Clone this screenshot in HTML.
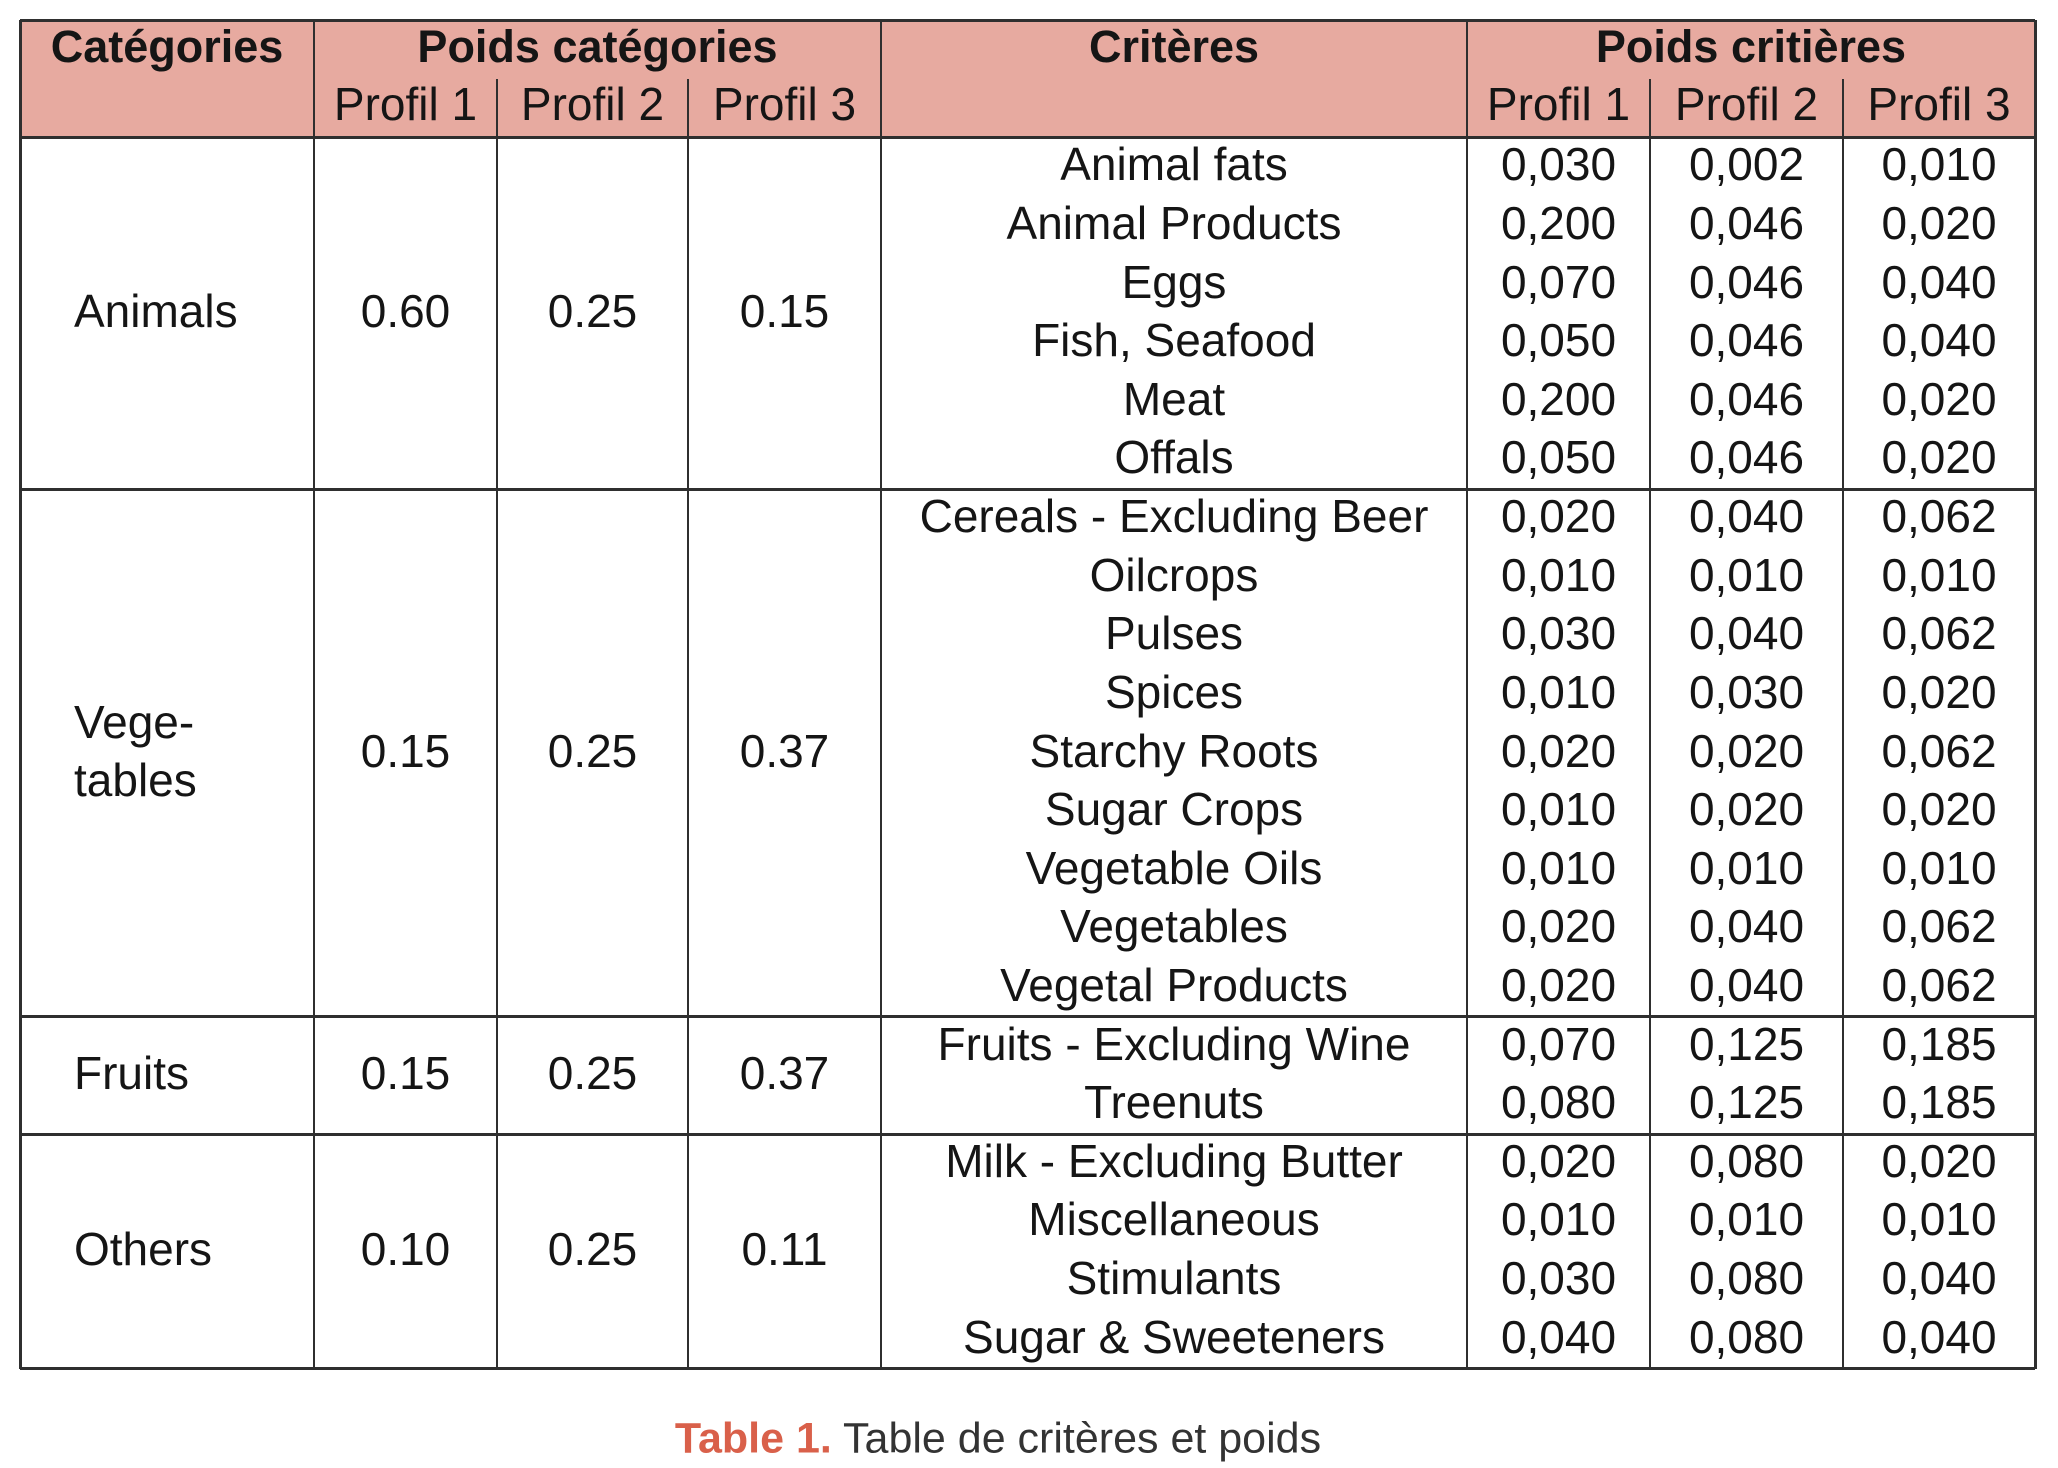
<!DOCTYPE html>
<html><head><meta charset="utf-8"><style>
body{margin:0;background:#fff;width:2058px;height:1468px;position:relative;overflow:hidden;font-family:"Liberation Sans",sans-serif;color:#151515}
.t{position:absolute;white-space:nowrap;transform:translate(-50%,-50%);font-size:46px}
.l{position:absolute;background:#2f2f2f}
.hdr{position:absolute;background:#e7aaa0}
.b{font-weight:bold;font-size:45px}
</style></head><body>
<div id="tbl"></div>
<div class="t" style="left:998px;top:1439px;font-size:43px;color:#333"><span style="color:#d9604a;font-weight:bold">Table 1.</span> Table de critères et poids</div>
<script>
const categories=["Animals","Vege-\ntables","Fruits","Others"];
const catWeightsP1=["0.60","0.15","0.15","0.10"];
const catWeightsP2=["0.25","0.25","0.25","0.25"];
const catWeightsP3=["0.15","0.37","0.37","0.11"];
const groupSizes=[6,9,2,4];
const criteria=["Animal fats","Animal Products","Eggs","Fish, Seafood","Meat","Offals","Cereals - Excluding Beer","Oilcrops","Pulses","Spices","Starchy Roots","Sugar Crops","Vegetable Oils","Vegetables","Vegetal Products","Fruits - Excluding Wine","Treenuts","Milk - Excluding Butter","Miscellaneous","Stimulants","Sugar & Sweeteners"];
const critP1=["0,030","0,200","0,070","0,050","0,200","0,050","0,020","0,010","0,030","0,010","0,020","0,010","0,010","0,020","0,020","0,070","0,080","0,020","0,010","0,030","0,040"];
const critP2=["0,002","0,046","0,046","0,046","0,046","0,046","0,040","0,010","0,040","0,030","0,020","0,020","0,010","0,040","0,040","0,125","0,125","0,080","0,010","0,080","0,080"];
const critP3=["0,010","0,020","0,040","0,040","0,020","0,020","0,062","0,010","0,062","0,020","0,062","0,020","0,010","0,062","0,062","0,185","0,185","0,020","0,010","0,040","0,040"];

const X=[20,314,497,688,881,1467,1650,1843,2035];
const TOP=20,SUB=79,HB=137,RH=(1368-137)/21;
const root=document.getElementById('tbl');
function box(cls,x,y,w,h,name){const d=document.createElement('div');d.className=cls;d.style.left=x+'px';d.style.top=y+'px';d.style.width=w+'px';d.style.height=h+'px';


root.appendChild(d);return d;}
function txt(s,x,y,name,extra){const d=document.createElement('div');d.className='t'+(extra?' '+extra:'');d.style.left=x+'px';d.style.top=y+'px';d.textContent=s;


root.appendChild(d);return d;}
box('hdr',X[0],TOP,X[8]-X[0],HB-TOP,'header-background');
const mid=i=>(X[i]+X[i+1])/2;
const rowY=i=>HB+RH*i;
txt('Catégories',(X[0]+X[1])/2,47,'header-categories','b');
txt('Poids catégories',(X[1]+X[4])/2,47,'header-poids-categories','b');
txt('Critères',mid(4),47,'header-criteres','b');
txt('Poids critières',(X[5]+X[8])/2,47,'header-poids-criteres','b');
[1,2,3,5,6,7].forEach((c,k)=>txt('Profil '+(k%3+1),mid(c),104,'header-profil-'+(k%3+1)));
let r=0;
groupSizes.forEach((n,g)=>{
  const yc=rowY(r)+RH*n/2-2;
  const lab=txt(categories[g],74,yc,'category-'+g);
  lab.style.transform='translate(0,-50%)';lab.style.whiteSpace='pre';lab.style.lineHeight='58px';
  txt(catWeightsP1[g],mid(1),yc,'cat-weight-p1');
  txt(catWeightsP2[g],mid(2),yc,'cat-weight-p2');
  txt(catWeightsP3[g],mid(3),yc,'cat-weight-p3');
  for(let i=0;i<n;i++){
    const y=rowY(r+i)+RH/2-2;
    txt(criteria[r+i],mid(4),y,'criterion-name');
    txt(critP1[r+i],mid(5),y,'crit-weight-p1');
    txt(critP2[r+i],mid(6),y,'crit-weight-p2');
    txt(critP3[r+i],mid(7),y,'crit-weight-p3');
  }
  r+=n;
  box('l',X[0],rowY(r)-1,X[8]-X[0],3,'group-divider');
});
box('l',X[0],TOP-1,X[8]-X[0],3,'top-border');
box('l',X[0],HB-1,X[8]-X[0],3,'header-divider');
const bot=rowY(21);
X.forEach((x,i)=>{
  let y0=TOP;
  if(i==2||i==3||i==6||i==7) y0=SUB;
  const w=(i==0||i==8)?3:2;
  box('l',x-1,y0,w,bot-y0+1,'column-divider');
});
</script>
</body></html>
